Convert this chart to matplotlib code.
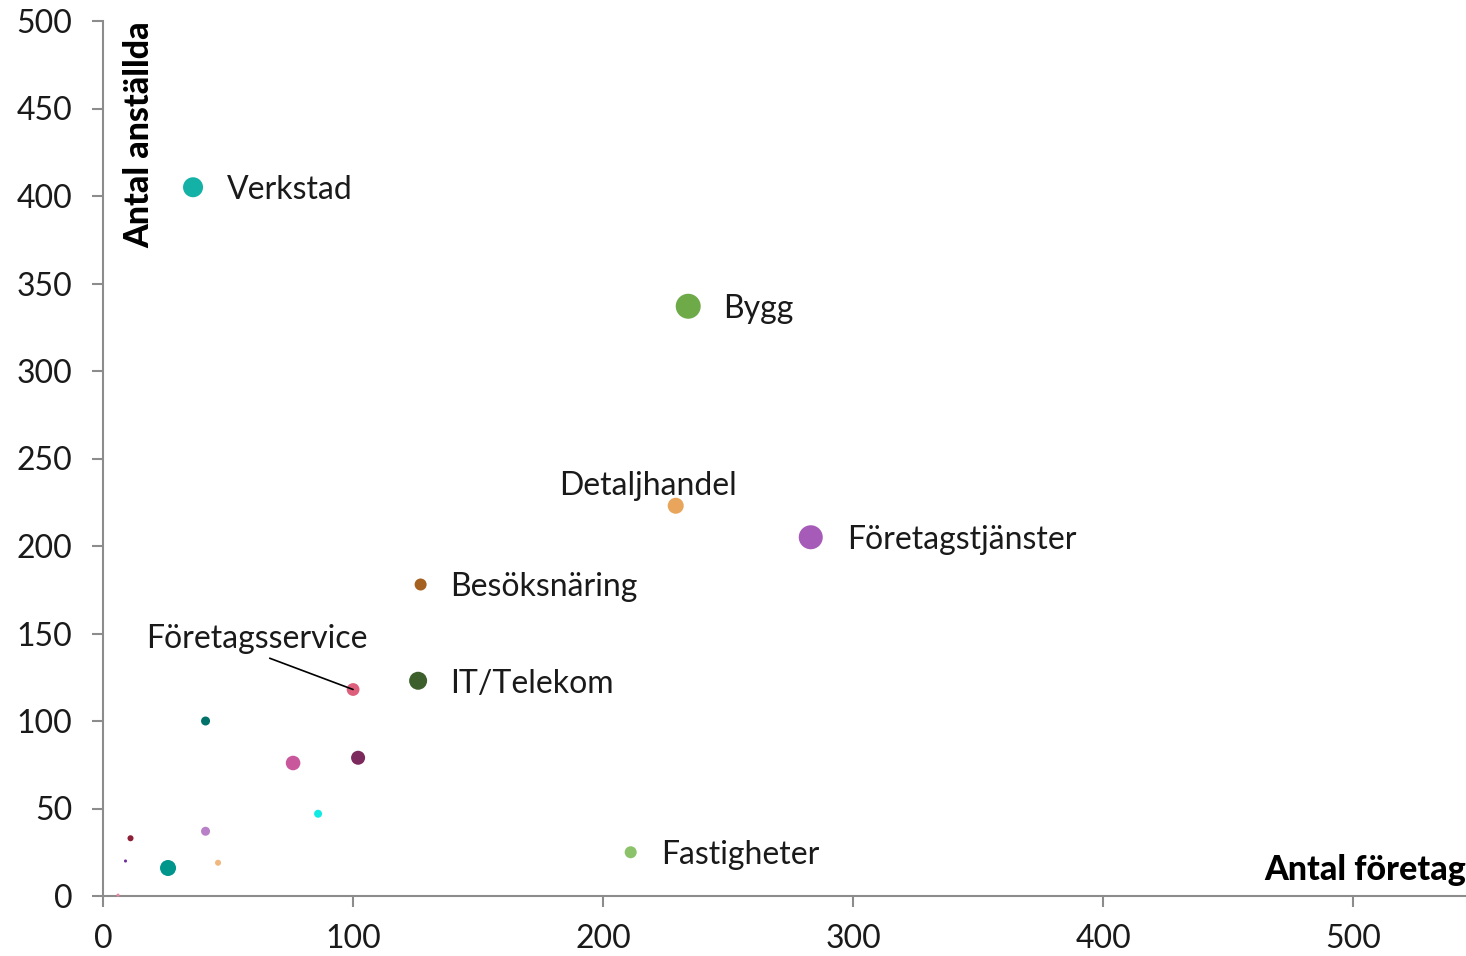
import matplotlib.pyplot as plt

plt.rcParams['font.family'] = ['Lato', 'DejaVu Sans']

# branch bubbles (labelled ones first)
names = ["Verkstad", "Bygg", "Detaljhandel", "Företagstjänster", "Besöksnäring",
         "IT/Telekom", "Företagsservice", "Fastigheter",
         "", "", "", "", "", "", "", "", "", ""]
foretag = [36, 234, 229, 283, 127, 126, 100, 211,
           41, 76, 102, 86, 41, 11, 9, 26, 46, 6]
anstallda = [405, 337, 223, 205, 178, 123, 118, 25,
             100, 76, 79, 47, 37, 33, 20, 16, 19, 0.5]
bubble = [207, 324, 133, 299, 75, 168, 85, 75,
          42, 110, 102, 33, 42, 19, 5, 133, 19, 5]
colors = ["#13b1a6", "#6eaa48", "#e8a55b", "#a65bb8", "#a5611f", "#3c5f2c",
          "#de5f7b", "#8cc26a",
          "#00726a", "#c9579b", "#7c2a5e", "#12ebe4", "#b880c7", "#8d2036",
          "#71309e", "#00968b", "#f0b87e", "#ea86a2"]

# label offsets in pixels (dx, dy, ha)
offsets = {
    "Verkstad": (34, 0, "left"),
    "Bygg": (35, 0, "left"),
    "Detaljhandel": (-28, 23, "center"),
    "Företagstjänster": (36, 0, "left"),
    "Besöksnäring": (30, 0, "left"),
    "IT/Telekom": (32, 0, "left"),
    "Fastigheter": (30, 0, "left"),
}

fig = plt.figure(figsize=(14.66, 9.56), dpi=100)
ax = fig.add_axes([103 / 1466, 60 / 956, 1 - 103 / 1466, 875 / 956])

ax.scatter(foretag, anstallda, s=bubble, c=colors, linewidths=0, zorder=3, clip_on=False)

fs = 23
for n, x, y in zip(names, foretag, anstallda):
    if n in offsets:
        dx, dy, ha = offsets[n]
        ax.annotate(n, (x, y), xytext=(dx, dy), textcoords="offset pixels",
                    ha=ha, va="center_baseline", fontsize=fs, color="#1a1a1a")
    elif n == "Företagsservice":
        ax.annotate(n, (x, y), xytext=(-96, 54), textcoords="offset pixels",
                    ha="center", va="center_baseline", fontsize=fs, color="#1a1a1a",
                    arrowprops=dict(arrowstyle="-", color="black", lw=1.2,
                                    relpos=(0.5, 0.0), shrinkA=4, shrinkB=0))

ax.set_xlim(0, 545)
ax.set_ylim(0, 500)
ax.set_xticks([0, 100, 200, 300, 400, 500])
ax.set_yticks(range(0, 501, 50))

for s in ["top", "right"]:
    ax.spines[s].set_visible(False)
for s in ["left", "bottom"]:
    ax.spines[s].set_color("#8c8c8c")
    ax.spines[s].set_linewidth(1.5)
ax.tick_params(axis="both", colors="#8c8c8c", length=8, width=1.5,
               labelsize=fs, labelcolor="#1a1a1a")
ax.tick_params(axis="y", pad=14)
ax.tick_params(axis="x", pad=12)

ax.text(0.027, 1.0, "Antal anställda", transform=ax.transAxes, rotation=90,
        ha="center", va="top", fontsize=24.5, fontweight="black", color="black")
ax.text(1.0, 0.012, "Antal företag", transform=ax.transAxes,
        ha="right", va="bottom", fontsize=24.5, fontweight="black", color="black")

fig.savefig("out.png", dpi=100)
